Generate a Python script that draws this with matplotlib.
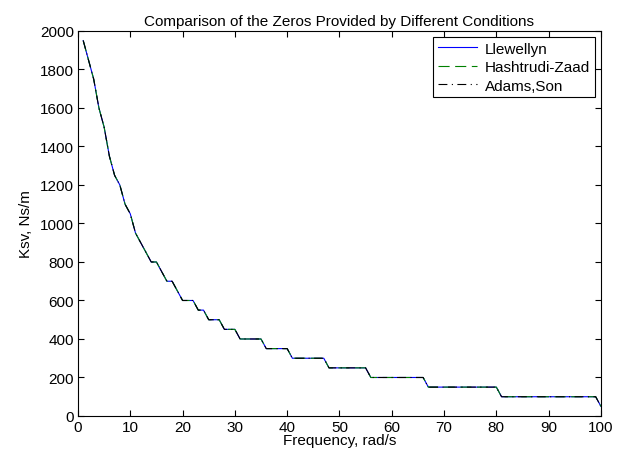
import numpy as np
import matplotlib.pyplot as plt

plt.rcParams['font.family'] = ['Liberation Sans', 'DejaVu Sans']

# -----------------------
# Data
# -----------------------

freq = list(range(1, 101))

ksv = [1950, 1850, 1750, 1600, 1500, 1350, 1250, 1200, 1100, 1050,
       950, 900, 850, 800, 800, 750, 700, 700, 650, 600,
       600, 600, 550, 550, 500, 500, 500, 450, 450, 450,
       400, 400, 400, 400, 400, 350, 350, 350, 350, 350,
       300, 300, 300, 300, 300, 300, 300, 250, 250, 250,
       250, 250, 250, 250, 250, 200, 200, 200, 200, 200,
       200, 200, 200, 200, 200, 200, 150, 150, 150, 150,
       150, 150, 150, 150, 150, 150, 150, 150, 150, 150,
       100, 100, 100, 100, 100, 100, 100, 100, 100, 100,
       100, 100, 100, 100, 100, 100, 100, 100, 100, 50]

labels = ["Llewellyn", "Hashtrudi-Zaad", "Adams,Son"]

# -----------------------
# Plot
# -----------------------

fig = plt.figure(figsize=(6.24, 4.60), dpi=100)
ax = fig.add_axes([0.125, 0.0935, 0.838, 0.837])

ax.plot(freq, ksv, color="blue", lw=0.8, label=labels[0])
ax.plot(freq, ksv, color="green", lw=0.8, dashes=(10, 5), label=labels[1])
ax.plot(freq, ksv, color="black", lw=0.8, dashes=(8, 4, 1, 4), label=labels[2])

ax.set_xlim(0, 100)
ax.set_ylim(0, 2000)
ax.set_xticks(np.arange(0, 101, 10))
ax.set_yticks(np.arange(0, 2001, 200))

ax.tick_params(direction="in", top=True, right=True, length=4,
               width=0.8, labelsize=11, pad=3)
for s in ax.spines.values():
    s.set_linewidth(0.8)

ax.set_title("Comparison of the Zeros Provided by Different Conditions",
             fontsize=11, pad=4)
ax.set_xlabel("Frequency, rad/s", fontsize=11, labelpad=-1)
ax.set_ylabel("Ksv, Ns/m", fontsize=11, labelpad=5)

leg = ax.legend(loc="upper right", fontsize=11, fancybox=False,
                framealpha=1, edgecolor="black", handlelength=2.6,
                handletextpad=0.5, borderaxespad=0.4, labelspacing=0.3,
                borderpad=0.3)
leg.get_frame().set_linewidth(0.8)

plt.savefig("out.png", dpi=100)
plt.close()
